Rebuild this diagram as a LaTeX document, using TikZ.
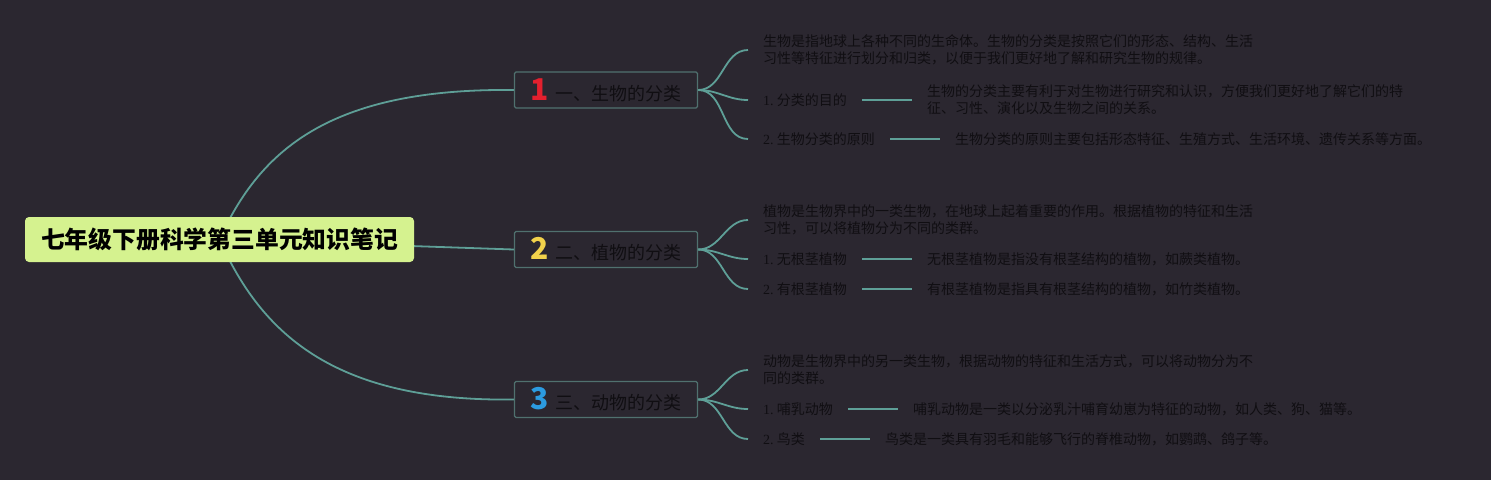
\documentclass[tikz,border=0pt]{standalone}
\usepackage{fontspec}
\usetikzlibrary{positioning}
\newfontfamily\cjk{Noto Sans CJK SC}
\newfontfamily\serifnum{Liberation Serif}
\definecolor{bgdark}{HTML}{2B2730}
\definecolor{linkteal}{HTML}{5E9F97}
\definecolor{boxedge}{HTML}{50716F}
\definecolor{rootlime}{HTML}{D5F28F}
\definecolor{inktext}{HTML}{100E12}
\definecolor{numred}{HTML}{E3202E}
\definecolor{numyellow}{HTML}{F2D24B}
\definecolor{numblue}{HTML}{2C9BE0}
\pgfdeclarelayer{backdrop}
\pgfdeclarelayer{links}
\pgfsetlayers{backdrop,links,main}
\newcommand{\itemno}[1]{{\serifnum #1.}~}
\newcommand{\topicno}[2]{{\bfseries\fontsize{30}{30}\selectfont\color{#1}#2}\hspace{6pt}}

\begin{document}
\begin{tikzpicture}[x=1pt,y=-1pt,
  rootbox/.style={fill=rootlime, rounded corners=4pt, minimum width=389pt,
    minimum height=45pt, inner sep=0pt, text=black,
    font=\cjk\bfseries\fontsize{23.8}{28}\selectfont},
  topicbox/.style={draw=boxedge, line width=1.3pt, fill=bgdark, rounded corners=1.5pt,
    minimum width=183pt, minimum height=36pt, inner sep=0pt, text=inktext,
    font=\cjk\fontsize{18}{22}\selectfont},
  leaf/.style={anchor=west, align=left, inner xsep=15pt, inner ysep=0pt, text=inktext,
    font=\cjk\fontsize{14}{17}\selectfont},
  link/.style={draw=linkteal, line width=1.8pt},
  node distance=50pt]
  \useasboundingbox (0,0) rectangle (1491,480);
  \begin{pgfonlayer}{backdrop}
    \fill[bgdark] (0,0) rectangle (1491,480);
  \end{pgfonlayer}

  \node[rootbox] (root) at (219.5,239.5) {七年级下册科学第三单元知识笔记};
  \node[topicbox] (t1) at (606,90) {\topicno{numred}{1}一、生物的分类};
  \node[topicbox] (t2) at (606,249.5) {\topicno{numyellow}{2}二、植物的分类};
  \node[topicbox] (t3) at (606,399.5) {\topicno{numblue}{3}三、动物的分类};

  \node[leaf] (d1) at (748,50) {生物是指地球上各种不同的生命体。生物的分类是按照它们的形态、结构、生活\\习性等特征进行划分和归类，以便于我们更好地了解和研究生物的规律。};
  \node[leaf] (i11) at (748,100) {\itemno{1}分类的目的};
  \node[leaf, right=50pt of i11] (i11d) {生物的分类主要有利于对生物进行研究和认识，方便我们更好地了解它们的特\\征、习性、演化以及生物之间的关系。};
  \node[leaf] (i12) at (748,139) {\itemno{2}生物分类的原则};
  \node[leaf, right=50pt of i12] (i12d) {生物分类的原则主要包括形态特征、生殖方式、生活环境、遗传关系等方面。};

  \node[leaf] (d2) at (748,220) {植物是生物界中的一类生物，在地球上起着重要的作用。根据植物的特征和生活\\习性，可以将植物分为不同的类群。};
  \node[leaf] (i21) at (748,259) {\itemno{1}无根茎植物};
  \node[leaf, right=50pt of i21] (i21d) {无根茎植物是指没有根茎结构的植物，如蕨类植物。};
  \node[leaf] (i22) at (748,289) {\itemno{2}有根茎植物};
  \node[leaf, right=50pt of i22] (i22d) {有根茎植物是指具有根茎结构的植物，如竹类植物。};

  \node[leaf] (d3) at (748,370) {动物是生物界中的另一类生物，根据动物的特征和生活方式，可以将动物分为不\\同的类群。};
  \node[leaf] (i31) at (748,409) {\itemno{1}哺乳动物};
  \node[leaf, right=50pt of i31] (i31d) {哺乳动物是一类以分泌乳汁哺育幼崽为特征的动物，如人类、狗、猫等。};
  \node[leaf] (i32) at (748,439) {\itemno{2}鸟类};
  \node[leaf, right=50pt of i32] (i32d) {鸟类是一类具有羽毛和能够飞行的脊椎动物，如鹦鹉、鸽子等。};

  \begin{pgfonlayer}{links}
    \draw[link] (root.center) .. controls (260,150) and (330,88) .. (t1.west);
    \draw[link] (root.center) -- (t2.west);
    \draw[link] (root.center) .. controls (260,330) and (330,402) .. (t3.west);
    \draw[link] (t1.east) to[out=0,in=180] (d1.west);
    \draw[link] (t1.east) to[out=0,in=180] (i11.west);
    \draw[link] (t1.east) to[out=0,in=180] (i12.west);
    \draw[link] (t2.east) to[out=0,in=180] (d2.west);
    \draw[link] (t2.east) to[out=0,in=180] (i21.west);
    \draw[link] (t2.east) to[out=0,in=180] (i22.west);
    \draw[link] (t3.east) to[out=0,in=180] (d3.west);
    \draw[link] (t3.east) to[out=0,in=180] (i31.west);
    \draw[link] (t3.east) to[out=0,in=180] (i32.west);
    \draw[link] (i11.east) -- (i11d.west);
    \draw[link] (i12.east) -- (i12d.west);
    \draw[link] (i21.east) -- (i21d.west);
    \draw[link] (i22.east) -- (i22d.west);
    \draw[link] (i31.east) -- (i31d.west);
    \draw[link] (i32.east) -- (i32d.west);
  \end{pgfonlayer}
\end{tikzpicture}
\end{document}
